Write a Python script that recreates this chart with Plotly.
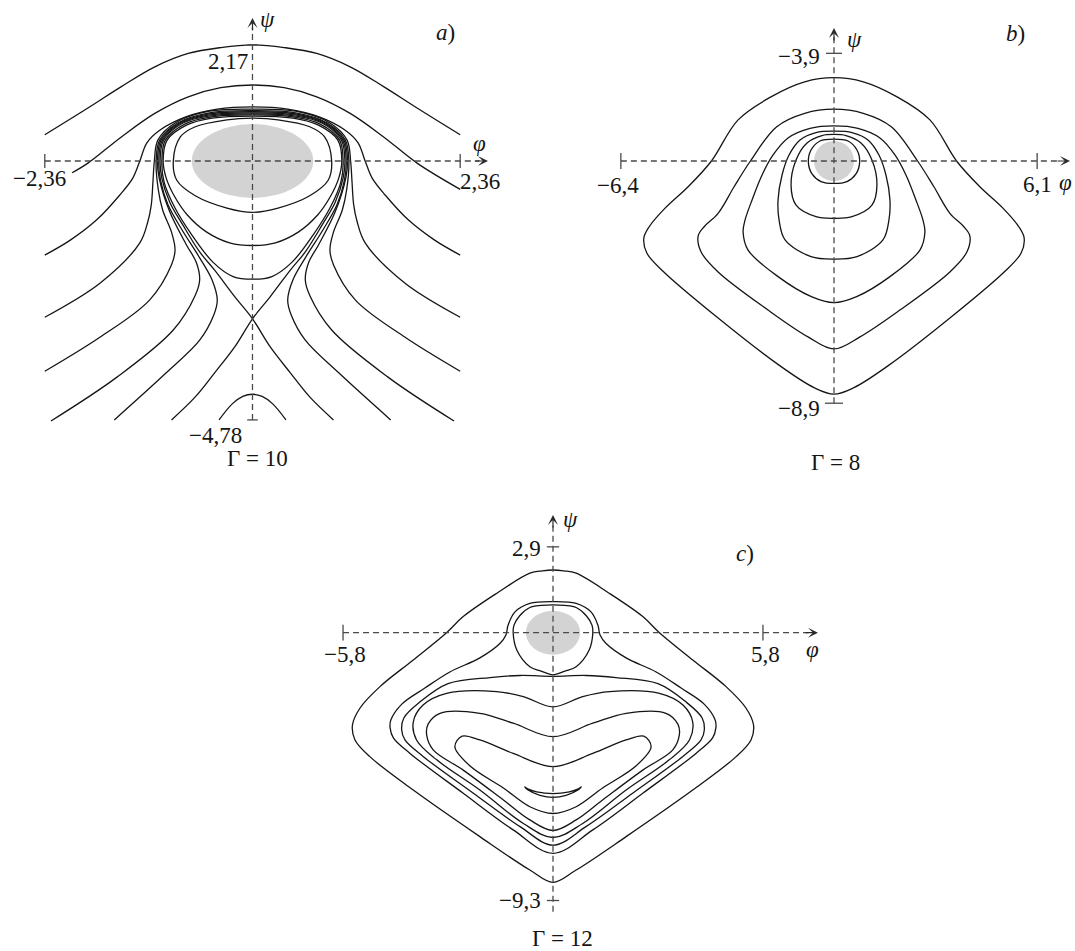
import plotly.graph_objects as go

# ---------------- panel a) Gamma = 10 ----------------
# half curves (phi >= 0), the portrait is symmetric in phi
a_top_phi = [0, 0.36, 0.73, 1.11, 1.49, 1.87, 2.36]
a_top_psi = [2.17, 2.12, 2.01, 1.76, 1.39, 0.99, 0.49]
# second arch is cut on the left by the tick label
a_second_phi = [-2.05, -1.87, -1.49, -1.11, -0.73, -0.36, 0, 0.36, 0.73, 1.11, 1.49, 1.87, 2.36]
a_second_psi = [-0.22, -0.04, 0.45, 0.89, 1.20, 1.37, 1.42, 1.37, 1.20, 0.89, 0.45, -0.04, -0.53]

a_b1_phi = [0, 0.40, 0.75, 1.05, 1.20, 1.28, 1.36, 1.51, 1.77, 2.07, 2.36]
a_b1_psi = [1.01, 0.97, 0.83, 0.58, 0.34, 0.0, -0.32, -0.64, -1.10, -1.48, -1.76]
a_b2_phi = [0, 0.49, 0.88, 1.075, 1.115, 1.13, 1.15, 1.19, 1.28, 1.73, 2.36]
a_b2_psi = [0.97, 0.93, 0.71, 0.39, 0.0, -0.36, -0.82, -1.14, -1.53, -2.28, -2.92]
a_b3_phi = [0, 0.49, 0.85, 1.055, 1.095, 1.07, 1.02, 0.92, 0.88, 0.92, 1.17, 1.73, 2.36]
a_b3_psi = [0.94, 0.90, 0.71, 0.39, 0.0, -0.54, -0.92, -1.33, -1.66, -1.94, -2.60, -3.29, -3.93]
a_b4_phi = [0, 0.49, 0.83, 1.04, 1.08, 1.06, 0.94, 0.75, 0.64, 0.60, 0.65, 0.90, 1.54, 2.29]
a_b4_psi = [0.92, 0.88, 0.71, 0.39, 0.0, -0.32, -0.95, -1.57, -1.89, -2.22, -2.51, -3.16, -4.04, -4.86]
a_b5_phi = [0, 0.49, 0.81, 1.025, 1.065, 1.045, 0.96, 0.80, 0.60, 0.46, 0.40, 0.44, 0.60, 0.98, 1.57]
a_b5_psi = [0.90, 0.86, 0.71, 0.39, 0.0, -0.36, -0.82, -1.29, -1.81, -2.22, -2.60, -2.88, -3.35, -3.96, -4.84]

# separatrix: upper half (top -> saddle) and lower branch (saddle -> edge)
a_sep_up_phi = [0, 0.49, 0.79, 1.01, 1.05, 1.03, 0.94, 0.79, 0.60, 0.43, 0.20, 0]
a_sep_up_psi = [0.88, 0.84, 0.71, 0.39, 0.0, -0.32, -0.77, -1.20, -1.70, -2.04, -2.54, -2.95]
a_sep_low_phi = [0, 0.20, 0.43, 0.65, 0.92]
a_sep_low_psi = [-2.95, -3.47, -3.96, -4.41, -4.84]

# closed orbits inside the separatrix (top -> bottom)
a_o3_phi = [0, 0.48, 0.77, 0.99, 1.03, 1.005, 0.88, 0.69, 0.45, 0.22, 0]
a_o3_psi = [0.86, 0.82, 0.69, 0.39, 0.0, -0.39, -0.88, -1.38, -1.89, -2.16, -2.21]
a_o2_phi = [0, 0.46, 0.75, 0.97, 1.015, 0.98, 0.89, 0.74, 0.52, 0.26, 0]
a_o2_psi = [0.84, 0.80, 0.67, 0.39, 0.0, -0.32, -0.65, -1.01, -1.33, -1.53, -1.58]
a_o1_phi = [0, 0.29, 0.65, 0.82, 0.90, 0.86, 0.65, 0.29, 0]
a_o1_psi = [0.80, 0.77, 0.64, 0.45, -0.01, -0.36, -0.65, -0.88, -0.96]

a_low_phi = [0, 0.11, 0.23, 0.38]
a_low_psi = [-4.36, -4.40, -4.54, -4.84]

a_phi_ticks = [-2.36, 2.36]
a_phi_labels = ['−2,36', '2,36']
a_psi_ticks = [2.17, -4.84]
a_psi_labels = ['2,17', '−4,78']
a_disk = 0.69

# ---------------- panel b) Gamma = 8 ----------------
b_p1_phi = [0, 0.88, 1.88, 2.88, 3.68, 4.38, 5.08, 5.55, 5.71, 5.62, 5.11, 3.48, 1.65, 0.60, 0]
b_p1_psi = [3.04, 2.89, 2.35, 1.50, 0.0, -0.94, -1.73, -2.40, -2.81, -3.36, -4.05, -5.73, -7.45, -8.27, -8.51]
b_p2_phi = [0, 0.88, 1.72, 2.51, 3.00, 3.48, 3.90, 4.08, 3.99, 3.48, 1.98, 0.78, 0]
b_p2_psi = [1.89, 1.74, 1.25, 0.0, -0.94, -1.91, -2.40, -2.74, -3.32, -4.05, -5.44, -6.42, -6.86]
b_p3_phi = [0, 0.72, 1.38, 1.83, 2.16, 2.46, 2.67, 2.73, 2.58, 1.68, 0.68, 0]
b_p3_psi = [1.28, 1.19, 0.84, 0.22, -0.51, -1.42, -2.15, -2.59, -3.25, -4.22, -4.95, -5.17]
b_p4_phi = [0, 0.54, 1.02, 1.35, 1.56, 1.68, 1.65, 1.47, 0.69, 0]
b_p4_psi = [1.09, 1.04, 0.77, 0.22, -0.51, -1.42, -2.15, -2.88, -3.49, -3.58]
b_p5_phi = [0, 0.36, 0.81, 1.14, 1.29, 1.14, 0.54, 0]
b_p5_psi = [0.97, 0.93, 0.66, 0.04, -0.88, -1.61, -2.03, -2.09]
b_p6_phi = [0, 0.42, 0.69, 0.77, 0.66, 0.39, 0]
b_p6_psi = [0.80, 0.73, 0.40, -0.04, -0.47, -0.75, -0.82]

b_phi_ticks = [-6.4, 6.1]
b_phi_labels = ['−6,4', '6,1']
b_psi_ticks = [3.93, -8.84]
b_psi_labels = ['−3,9', '−8,9']
b_disk = (0.60, 0.73)

# ---------------- panel c) Gamma = 12 ----------------
c_q1_phi = [0, 0.30, 0.64, 1.56, 2.48, 2.94, 3.86, 4.78, 5.33, 5.54, 5.47, 5.06, 3.86, 2.02, 0.64, 0]
c_q1_psi = [2.14, 2.11, 2.03, 1.34, 0.55, 0.0, -0.93, -1.84, -2.57, -3.15, -3.66, -4.23, -5.37, -6.96, -8.10, -8.52]
c_q2_phi = [0, 0.64, 1.05, 1.24, 1.30, 1.46, 2.02, 2.85, 3.54, 4.17, 4.48, 4.50, 4.41, 3.95, 2.48, 1.10, 0]
c_q2_psi = [1.06, 1.00, 0.71, 0.26, -0.08, -0.36, -0.86, -1.34, -1.89, -2.43, -2.98, -3.25, -3.59, -4.12, -5.48, -6.73, -7.53]
# teardrop loop, cusp at the bottom
c_tear_phi = [0, 0.32, 0.64, 0.92, 1.08, 1.10, 1.00, 0.64, 0.33, 0]
c_tear_psi = [0.95, 0.93, 0.86, 0.58, 0.25, -0.02, -0.59, -1.16, -1.31, -1.44]
c_n1_phi = [0, 0.91, 1.74, 2.90, 3.67, 4.12, 4.18, 4.09, 3.58, 2.20, 0.91, 0]
c_n1_psi = [-1.49, -1.46, -1.53, -1.74, -2.36, -2.91, -3.32, -3.66, -4.23, -5.48, -6.62, -7.25]
c_n2_phi = [0, 0.82, 1.56, 2.94, 3.59, 3.86, 3.77, 3.21, 2.02, 0.82, 0]
c_n2_psi = [-2.53, -2.18, -2.01, -2.07, -2.47, -3.05, -3.66, -4.34, -5.37, -6.51, -6.99]
c_n3_phi = [0, 1.10, 2.02, 3.12, 3.45, 3.49, 3.31, 2.48, 1.37, 0.64, 0]
c_n3_psi = [-3.55, -3.09, -2.75, -2.75, -3.12, -3.49, -4.00, -4.69, -5.71, -6.39, -6.75]
c_n4_phi = [0, 1.10, 2.02, 2.51, 2.71, 2.29, 1.37, 0.64, 0]
c_n4_psi = [-4.57, -4.12, -3.66, -3.53, -3.89, -4.55, -5.30, -5.94, -6.17]
c_cres_phi = [0, 0.45, 0.70, 0.78, 0.70, 0.36, 0]
c_cres_psi = [-5.49, -5.43, -5.33, -5.26, -5.36, -5.55, -5.62]

c_phi_ticks = [-5.8, 5.8]
c_phi_labels = ['−5,8', '5,8']
c_psi_ticks = [2.93, -9.14]
c_psi_labels = ['2,9', '−9,3']
c_disk = 0.75


def open_curve(phi, psi):
    x = [-v for v in reversed(phi)] + list(phi[1:])
    y = list(reversed(psi)) + list(psi[1:])
    return x, y


def loop_curve(phi, psi):
    x = list(phi) + [-v for v in reversed(phi[:-1])]
    y = list(psi) + list(reversed(psi[:-1]))
    return x, y


def cusp_curve(phi, psi):
    x = list(reversed(phi)) + [-v for v in phi[1:]]
    y = list(reversed(psi)) + list(psi[1:])
    return x, y


def separatrix(up_phi, up_psi, low_phi, low_psi):
    x = [-v for v in reversed(low_phi)] + list(reversed(up_phi))[1:] \
        + [-v for v in up_phi[1:]] + list(low_phi[1:])
    y = list(reversed(low_psi)) + list(reversed(up_psi))[1:] \
        + list(up_psi[1:]) + list(low_psi[1:])
    return x, y


INK = '#151515'
AXC = '#4a4a4a'
FONT = 'Liberation Serif'
FS = 23

fig = go.Figure()


def curve(xy, ax):
    x, y = xy
    fig.add_trace(go.Scatter(x=x, y=y, mode='lines', xaxis='x' + ax, yaxis='y' + ax,
                             line=dict(color=INK, width=1.3, shape='spline', smoothing=1.0),
                             hoverinfo='skip'))


def seg(x, y, ax, dash=None):
    fig.add_trace(go.Scatter(x=x, y=y, mode='lines', xaxis='x' + ax, yaxis='y' + ax,
                             line=dict(color=AXC, width=1.3, dash=dash), hoverinfo='skip'))


# panel a curves
curve(open_curve(a_top_phi, a_top_psi), '')
curve((a_second_phi, a_second_psi), '')
for ph, ps in [(a_b1_phi, a_b1_psi), (a_b2_phi, a_b2_psi), (a_b3_phi, a_b3_psi),
               (a_b4_phi, a_b4_psi), (a_b5_phi, a_b5_psi), (a_low_phi, a_low_psi)]:
    curve(open_curve(ph, ps), '')
curve(separatrix(a_sep_up_phi, a_sep_up_psi, a_sep_low_phi, a_sep_low_psi), '')
for ph, ps in [(a_o3_phi, a_o3_psi), (a_o2_phi, a_o2_psi), (a_o1_phi, a_o1_psi)]:
    curve(loop_curve(ph, ps), '')

# panel b curves
for ph, ps in [(b_p1_phi, b_p1_psi), (b_p2_phi, b_p2_psi), (b_p3_phi, b_p3_psi),
               (b_p4_phi, b_p4_psi), (b_p5_phi, b_p5_psi), (b_p6_phi, b_p6_psi)]:
    curve(loop_curve(ph, ps), '2')

# panel c curves
for ph, ps in [(c_q1_phi, c_q1_psi), (c_q2_phi, c_q2_psi), (c_n1_phi, c_n1_psi),
               (c_n2_phi, c_n2_psi), (c_n3_phi, c_n3_psi), (c_n4_phi, c_n4_psi),
               (c_cres_phi, c_cres_psi)]:
    curve(loop_curve(ph, ps), '3')
curve(cusp_curve(c_tear_phi, c_tear_psi), '3')

# dashed axes, ticks
DASH = '6px,4px'
seg([a_phi_ticks[0], 2.58], [0, 0], '', DASH)
seg([0, 0], [a_psi_ticks[1], 2.50], '', DASH)
seg([a_phi_ticks[0]] * 2 + [None] + [a_phi_ticks[1]] * 2, [-0.13, 0.13, None, -0.13, 0.13], '')
seg([-0.06, 0.06, None, -0.06, 0.06], [a_psi_ticks[0]] * 2 + [None] + [a_psi_ticks[1]] * 2, '')

seg([b_phi_ticks[0], 6.80], [0, 0], '2', DASH)
seg([0, 0], [b_psi_ticks[1], 4.55], '2', DASH)
seg([b_phi_ticks[0]] * 2 + [None] + [b_phi_ticks[1]] * 2, [-0.29, 0.29, None, -0.29, 0.29], '2')
seg([-0.24, 0.24, None, -0.27, 0.27], [b_psi_ticks[0]] * 2 + [None] + [b_psi_ticks[1]] * 2, '2')

seg([c_phi_ticks[0], 7.05], [0, 0], '3', DASH)
seg([0, 0], [-9.52, 3.75], '3', DASH)
seg([c_phi_ticks[0]] * 2 + [None] + [c_phi_ticks[1]] * 2, [-0.27, 0.27, None, -0.27, 0.27], '3')
seg([-0.17, 0.17, None, -0.17, 0.17], [c_psi_ticks[0]] * 2 + [None] + [c_psi_ticks[1]] * 2, '3')

# grey disks
shapes = [
    dict(type='circle', xref='x', yref='y', x0=-a_disk, x1=a_disk, y0=-a_disk, y1=a_disk,
         fillcolor='#d3d3d3', line=dict(width=0), layer='below'),
    dict(type='circle', xref='x2', yref='y2', x0=-b_disk[0], x1=b_disk[0], y0=-b_disk[1], y1=b_disk[1],
         fillcolor='#d3d3d3', line=dict(width=0), layer='below'),
    dict(type='circle', xref='x3', yref='y3', x0=-c_disk, x1=c_disk, y0=-c_disk, y1=c_disk,
         fillcolor='#d3d3d3', line=dict(width=0), layer='below'),
]

ann = []


def arrow(x, y, ax, dx, dy):
    ann.append(dict(x=x, y=y, xref='x' + ax, yref='y' + ax, ax=dx, ay=dy, text='',
                    showarrow=True, arrowhead=3, arrowsize=1.4, arrowwidth=1.2, arrowcolor='#2a2a2a'))


def label(text, x, y, ax, xanchor='center', size=FS):
    ann.append(dict(x=x, y=y, xref='x' + ax, yref='y' + ax, text=text, showarrow=False,
                    xanchor=xanchor, yanchor='middle', font=dict(family=FONT, size=size, color=INK)))


arrow(2.676, 0, '', -14, 0)
arrow(0, 2.673, '', 0, 14)
arrow(7.087, 0, '2', -14, 0)
arrow(0, 4.854, '2', 0, 14)
arrow(7.32, 0, '3', -14, 0)
arrow(0, 4.02, '3', 0, 14)

label(a_psi_labels[0], -0.03, 1.86, '', 'right')
label(a_phi_labels[0], -2.415, -0.336, '')
label(a_phi_labels[1], 2.585, -0.383, '')
label(a_psi_labels[1], -0.415, -5.14, '')
label('<i>φ</i>', 2.585, 0.336, '')
label('<i>ψ</i>', 0.176, 2.636, '')
label('<i>a</i>)', 2.188, 2.393, '')
label('Γ = 10', 0.062, -5.57, '')

label(b_psi_labels[0], -0.36, 3.80, '2', 'right')
label(b_phi_labels[0], -6.49, -0.876, '2')
label(b_phi_labels[1], 6.10, -0.84, '2')
label(b_psi_labels[1], -0.36, -9.05, '2', 'right')
label('<i>φ</i>', 7.20, -0.80, '2', 'right')
label('<i>ψ</i>', 0.63, 4.42, '2')
label('<i>b</i>)', 5.44, 4.67, '2')
label('Γ = 8', 0.03, -11.02, '2')

label(c_psi_labels[0], -0.28, 2.86, '3', 'right')
label(c_phi_labels[0], -5.75, -0.73, '3')
label(c_phi_labels[1], 5.86, -0.73, '3')
label(c_psi_labels[1], -0.28, -9.14, '3', 'right')
label('<i>φ</i>', 7.18, -0.59, '3')
label('<i>ψ</i>', 0.47, 3.85, '3')
label('<i>c</i>)', 5.30, 2.72, '3')
label('Γ = 12', 0.26, -10.44, '3')

W, H = 1075, 951
hid = dict(visible=False, fixedrange=True)
fig.update_layout(
    width=W, height=H, margin=dict(l=0, r=0, t=0, b=0),
    paper_bgcolor='white', plot_bgcolor='white', showlegend=False,
    xaxis=dict(domain=[0, 540 / W], range=[-2.869, 3.267], anchor='y', **hid),
    yaxis=dict(domain=[1 - 480 / H, 1], range=[-5.963, 3.009], anchor='x', **hid),
    xaxis2=dict(domain=[560 / W, 1], range=[-8.228, 7.237], anchor='y2', **hid),
    yaxis2=dict(domain=[1 - 480 / H, 1], range=[-11.642, 5.876], anchor='x2', **hid),
    xaxis3=dict(domain=[300 / W, 860 / W], range=[-6.989, 8.481], anchor='y3', **hid),
    yaxis3=dict(domain=[0, 1 - 490 / H], range=[-10.863, 4.870], anchor='x3', **hid),
    shapes=shapes, annotations=ann, hovermode=False,
)

# the page body has a default 8px margin; drop it so the figure sits at the corner
fig.write_html("out.html", config={'displayModeBar': False},
               post_script="document.body.style.margin='0';document.body.style.overflow='hidden';")
